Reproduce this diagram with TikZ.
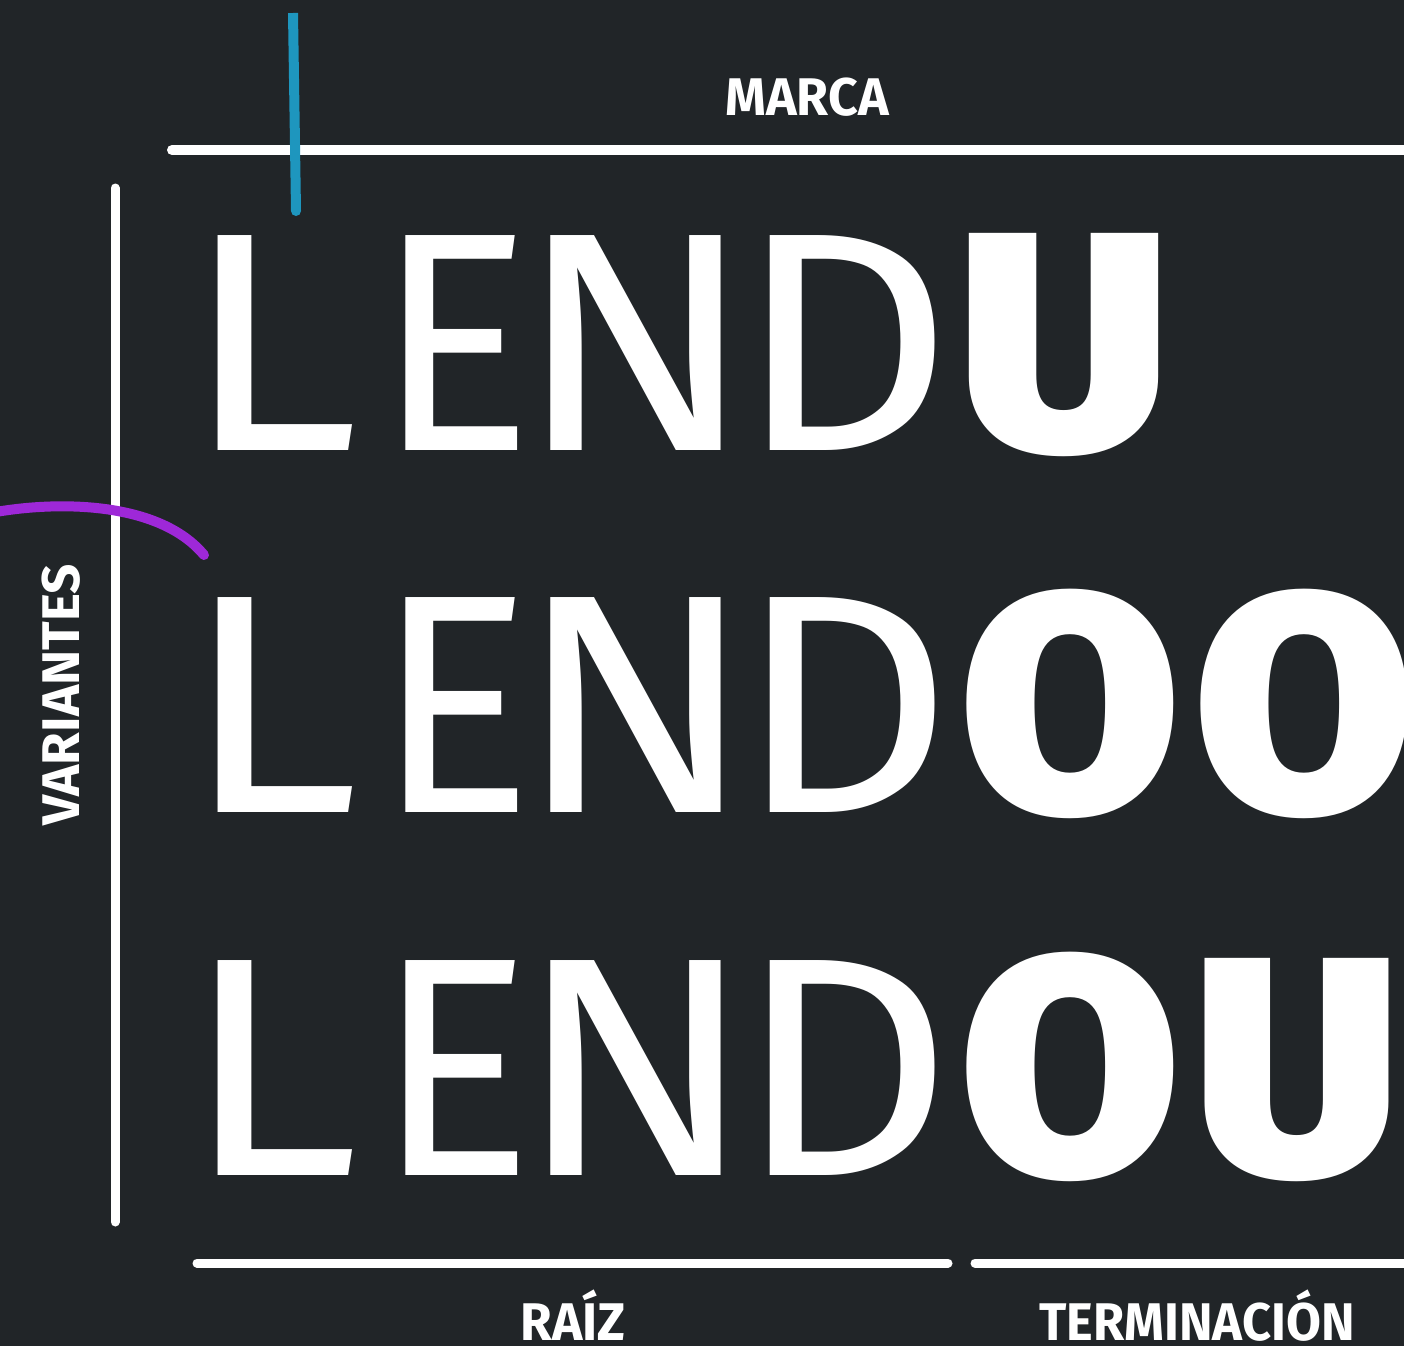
\documentclass[tikz,border=0pt]{standalone}
\usepackage{fontspec}
\setmainfont{Fira Sans}
\newfontfamily\lightf{Fira Sans}
\newfontfamily\heavyf{Fira Sans Black}
\newfontfamily\labelf{Fira Sans Bold}
\definecolor{bg}{RGB}{33,37,40}
\definecolor{bluel}{RGB}{30,150,190}
\definecolor{purp}{RGB}{158,40,216}
\tikzset{
  rule/.style={draw=white,line width=9pt,line cap=round},
  big/.style={text=white,inner sep=0pt,anchor=base,font=\lightf\fontsize{312}{312}\selectfont},
  bigb/.style={text=white,inner sep=0pt,anchor=base,font=\heavyf\fontsize{312}{312}\selectfont},
  lbl/.style={text=white,inner sep=0pt,anchor=base,text depth=0pt,font=\labelf\fontsize{53}{53}\selectfont},
}
\begin{document}
\begin{tikzpicture}[x=1pt,y=-1pt]
\useasboundingbox (0,0) rectangle (1404,1346);
\fill[bg] (0,0) rectangle (1404,1346);
\clip (0,0) rectangle (1404,1346);
% rules
\draw[rule,line width=10pt] (172,150) -- (1420,150);
\draw[rule] (115,188) -- (115,1222);
\draw[rule] (197,1263) -- (948,1263);
\draw[rule] (975,1263) -- (1420,1263);
% labels
\node[lbl,xscale=0.98] (marca) at (807,115) {MARCA};
\node[lbl,rotate=90,anchor=center,xscale=1.0] (var) at (61,695) {VARIANTES};
\node[lbl,xscale=0.97] (raiz) at (573,1340) {RAÍZ};
\node[lbl,xscale=0.955] (term) at (1197,1340) {TERMINACIÓN};
% rows
\foreach \r/\b in {1/450,2/812,3/1175}{
  \node[big,xscale=1.14] (L\r) at (271,\b) {L};
  \node[big,xscale=0.94] (E\r) at (455,\b) {E};
  \node[big,xscale=1.13] (N\r) at (636,\b) {N};
  \node[big,xscale=1.08] (D\r) at (844.5,\b) {D};
}
\node[bigb,xscale=1.05] (U1) at (1064,450) {U};
\node[bigb,xscale=1.02] (O21) at (1070,812) {O};
\node[bigb,xscale=1.02] (O22) at (1304,812) {O};
\node[bigb,xscale=1.02] (O3) at (1070,1175) {O};
\node[bigb,xscale=1.02] (U3) at (1297,1175) {U};
% blue mark
\draw[bluel,line width=10pt] (293,13) -- (296,211);
\fill[bluel] (296,211) circle (5pt);
% purple arc
\draw[purp,line width=10pt,line cap=round] (-10,513) .. controls (60,500) and (160,502) .. (204,555);
\end{tikzpicture}
\end{document}
